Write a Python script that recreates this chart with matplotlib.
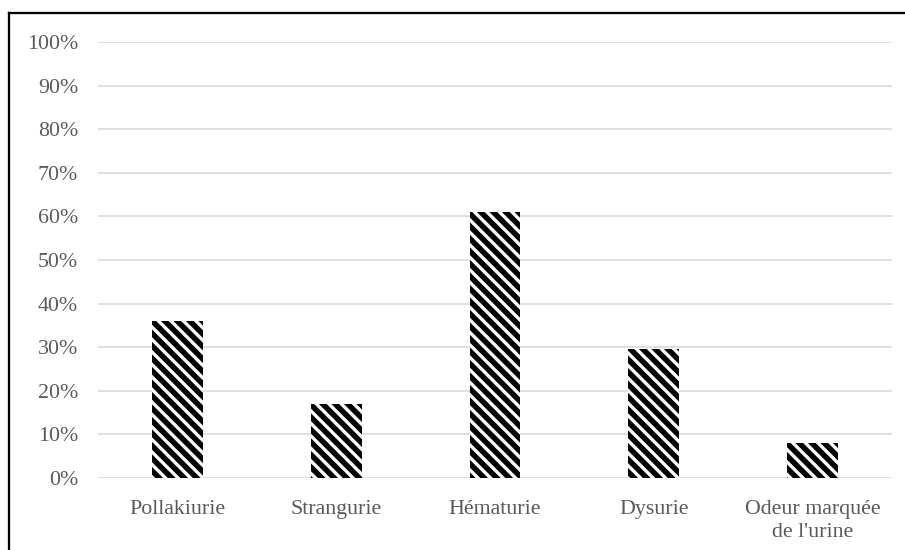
import matplotlib.pyplot as plt
from matplotlib.lines import Line2D
from matplotlib.ticker import PercentFormatter

# symptom frequencies
categories = ["Pollakiurie", "Strangurie", "Hématurie", "Dysurie", "Odeur marquée\nde l'urine"]
values = [0.36, 0.17, 0.61, 0.295, 0.08]
yticks = [0, 0.1, 0.2, 0.3, 0.4, 0.5, 0.6, 0.7, 0.8, 0.9, 1.0]

DPI = 75
plt.rcParams["font.family"] = ["Liberation Serif", "DejaVu Serif"]
plt.rcParams["hatch.linewidth"] = 3.2

fig = plt.figure(figsize=(905 / DPI, 550 / DPI), dpi=DPI)
ax = fig.add_axes([98 / 905, 72 / 550, 794 / 905, 436 / 550])

ax.bar(range(len(categories)), values, width=0.32, color="black",
       edgecolor="white", linewidth=0, hatch="\\\\", zorder=3)

ax.set_ylim(0, 1)
ax.set_xlim(-0.5, len(categories) - 0.5)
ax.set_yticks(yticks)
ax.yaxis.set_major_formatter(PercentFormatter(1.0, decimals=0))
ax.set_xticks(range(len(categories)))
ax.set_xticklabels(categories, linespacing=1.3)

ax.grid(axis="y", color="#d9d9d9", linewidth=1.6, zorder=0)
for s in ["top", "right", "left", "bottom"]:
    ax.spines[s].set_visible(False)
ax.tick_params(axis="both", length=0, labelsize=21, colors="#595959")
ax.tick_params(axis="y", pad=19)
ax.tick_params(axis="x", pad=21)

# outer frame (top and left edges visible)
fig.add_artist(Line2D([9 / 905, 9 / 905], [0, 1 - 13 / 550], color="black", linewidth=2.2,
                      transform=fig.transFigure))
fig.add_artist(Line2D([9 / 905, 1], [1 - 13 / 550, 1 - 13 / 550], color="black", linewidth=2.2,
                      transform=fig.transFigure))

fig.savefig("out.png", dpi=DPI)
